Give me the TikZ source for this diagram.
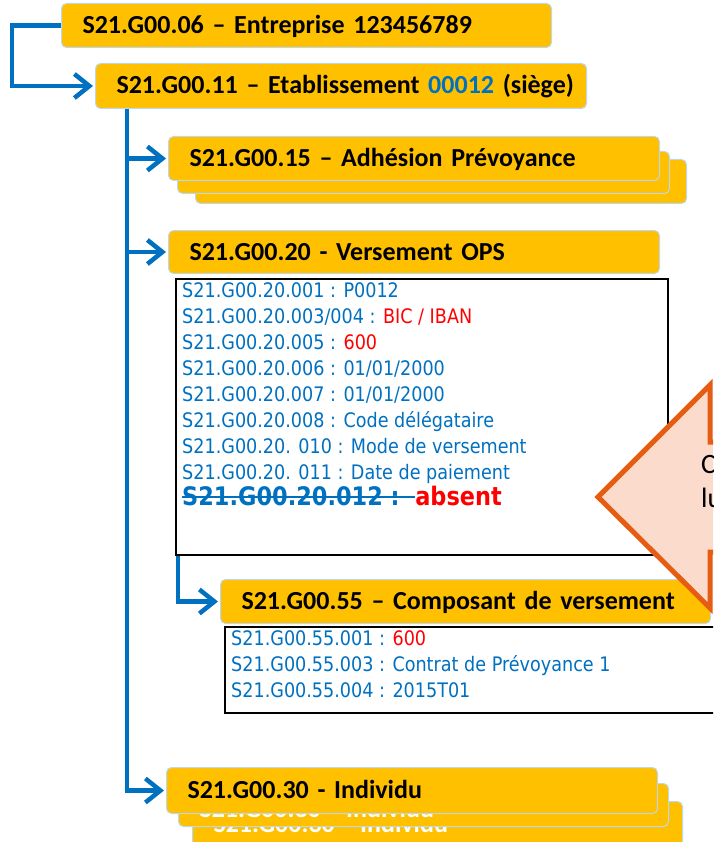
\documentclass[tikz,border=0pt]{standalone}
\usepackage{fontspec}
\usetikzlibrary{arrows.meta}

\newfontfamily\hdrfont{Carlito}
\newfontfamily\fieldfont[FakeStretch=0.88]{DejaVu Sans}
\definecolor{dsnblue}{RGB}{0,112,192}
\definecolor{dsngold}{RGB}{255,192,0}
\definecolor{dsnedge}{RGB}{189,215,238}
\definecolor{dsnorange}{RGB}{230,92,18}
\definecolor{dsnpeach}{RGB}{251,220,204}
\newsavebox\barrebox
\newcommand{\barre}[1]{\sbox\barrebox{#1}\rlap{\usebox\barrebox}\rule[0.27em]{\wd\barrebox}{1.8pt}}

\begin{document}
\begin{tikzpicture}[
  x=1pt, y=-1pt,
  bloc/.style={draw=dsnedge, fill=dsngold, line width=1pt, rounded corners=5pt, anchor=north west,
    inner xsep=10pt, inner ysep=0pt, minimum height=44pt, text height=18pt, text depth=2pt,
    align=left, execute at begin node={\hspace*{11pt}},
    font=\hdrfont\bfseries\fontsize{26}{30}\selectfont},
  ghost/.style={bloc, text=white},
  champs/.style={draw=black, line width=1.8pt, anchor=north west},
  lignes/.style={anchor=north west, inner sep=0pt, align=left, text=dsnblue,
    font=\fieldfont\fontsize{20}{26}\selectfont},
  lien/.style={draw=dsnblue, line width=4.5pt, -{Straight Barb[length=15pt,width=24pt]}, shorten >=2pt},
  bulle/.style={draw=dsnorange, fill=dsnpeach, line width=5pt, line join=miter}
]
  \useasboundingbox (0,0) rectangle (713,842);
  \clip (0,0) rectangle (713,842);

  % Entreprise and etablissement
  \node[bloc, text width=470pt] (ent) at (61,3) {S21.G00.06 – Entreprise 123456789};
  \node[bloc, text width=471pt, minimum height=45pt] (etab) at (95,63)
    {S21.G00.11 – Etablissement \textcolor{dsnblue}{00012} (siège)};

  % Adhesion prevoyance - stacked blocs
  \node[bloc, text width=471pt] (adh3) at (195,159) {};
  \node[bloc, text width=472pt, minimum height=42pt] (adh2) at (177,151) {};
  \node[bloc, text width=471pt] (adh) at (168,136) {S21.G00.15 – Adhésion Prévoyance};

  % Versement OPS and its fields
  \node[bloc, text width=471pt, minimum height=43pt] (ops) at (168,230) {S21.G00.20 - Versement OPS};
  \node[champs, minimum width=492pt, minimum height=276pt] (opsbox) at (175,278) {};
  \node[lignes] (opstxt) at (182,282) {S21.G00.20.001 : P0012\\
    S21.G00.20.003/004 : \textcolor{red}{BIC / IBAN}\\
    S21.G00.20.005 : \textcolor{red}{600}\\
    S21.G00.20.006 : 01/01/2000\\
    S21.G00.20.007 : 01/01/2000\\
    S21.G00.20.008 : Code délégataire\\
    S21.G00.20. 010 : Mode de versement\\
    S21.G00.20. 011 : Date de paiement\\
    {\bfseries\fontsize{25.5}{26}\selectfont\barre{S21.G00.20.012 :\ \ }\textcolor{red}{absent}}};

  % Composant de versement
  \node[bloc, text width=470pt] (comp) at (220,579) {S21.G00.55 – Composant de versement};
  \node[champs, minimum width=500pt, minimum height=86pt] (compbox) at (224,626) {};
  \node[lignes] (comptxt) at (231,630) {S21.G00.55.001 : \textcolor{red}{600}\\
    S21.G00.55.003 : Contrat de Prévoyance 1\\
    S21.G00.55.004 : 2015T01};

  % Individu - stacked blocs
  \node[ghost, text width=470pt, minimum height=46pt] (ind3) at (192,801) {S21.G00.30 - Individu};
  \node[ghost, text width=470pt, minimum height=43pt, text height=27pt] (ind2) at (178,783) {S21.G00.30 - Individu};
  \node[bloc, text width=471pt, minimum height=46pt] (ind) at (166,767) {S21.G00.30 - Individu};

  % Links
  \coordinate (tronc) at ([xshift=32pt]etab.south west);
  \draw[lien] (ent.west) -- ++(-49,0) |- (etab.west);
  \draw[lien] (tronc) |- (adh.west);
  \draw[lien] (tronc) |- (ops.west);
  \draw[lien] (tronc) |- (ind.west);
  \draw[lien] ([xshift=3pt]opsbox.south west) |- (comp.west);

  % Callout (cut by the right edge)
  \draw[bulle] (598,497) -- (710,385) -- (710,442) -- (740,442) -- (740,552) -- (710,552) -- (710,608) -- cycle;
  \node[anchor=north west, inner sep=0pt, align=left, font=\hdrfont\fontsize{28}{34}\selectfont]
    (bulletxt) at (701,455) {C\\lu};
\end{tikzpicture}
\end{document}
